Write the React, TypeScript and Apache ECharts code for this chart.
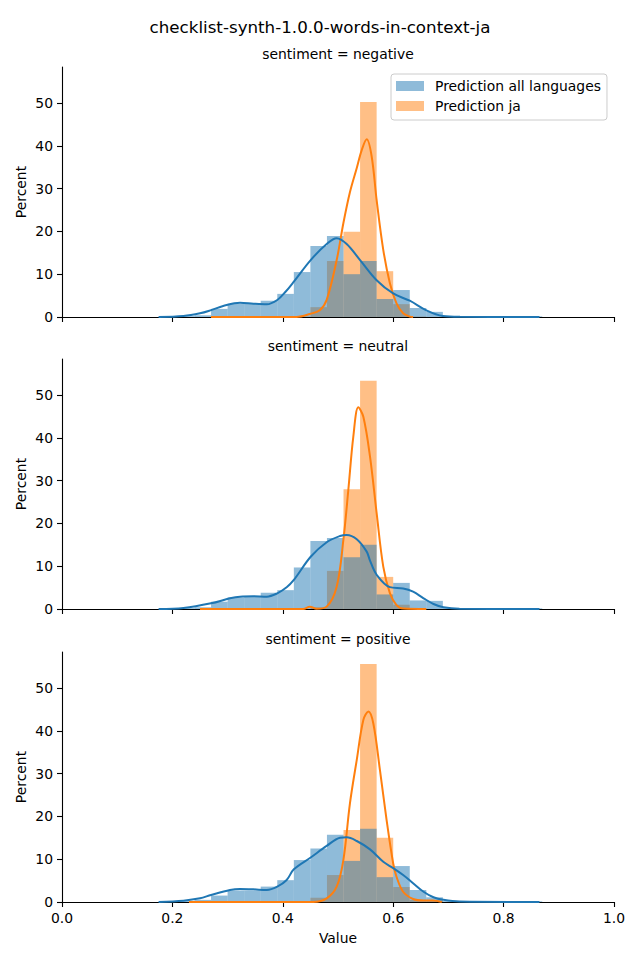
import React, { useEffect, useRef } from "react";
import * as echarts from "echarts";

const FIG_TITLE = "checklist-synth-1.0.0-words-in-context-ja";
const PANEL_TITLES = ["sentiment = negative", "sentiment = neutral", "sentiment = positive"];
const SERIES_NAMES = ["Prediction all languages", "Prediction ja"];
const X_AXIS_NAME = "Value";
const Y_AXIS_NAME = "Percent";
const X_TICKS = [0, 0.2, 0.4, 0.6, 0.8, 1.0];
const Y_TICKS = [0, 10, 20, 30, 40, 50];

// histogram bin edges (23 bins)
const BIN_EDGES = [
  0.18, 0.21, 0.24, 0.27, 0.3, 0.33, 0.36, 0.39, 0.42, 0.45, 0.48, 0.51,
  0.54, 0.57, 0.6, 0.63, 0.66, 0.69, 0.72, 0.75, 0.78, 0.81, 0.84, 0.87,
];

// percent per bin
const NEG_ALL = [0.2, 0.2, 0.4, 1.9, 3.1, 3.2, 3.8, 5.4, 10.5, 16.6, 18.9, 10.0, 13.1, 4.2, 6.3, 2.1, 1.2, 0.2, 0.15, 0.15, 0.15, 0.15, 0.15];
const NEG_JA = [0, 0, 0, 0, 0, 0, 0, 0, 0.1, 2.3, 13.1, 19.9, 50.2, 10.7, 3.0, 0.1, 0, 0, 0, 0, 0, 0, 0];
const NEU_ALL = [0.2, 0.2, 0.4, 1.7, 2.7, 2.9, 3.8, 4.4, 9.7, 15.9, 16.6, 12.1, 15.0, 3.4, 6.1, 2.0, 1.9, 0.2, 0.15, 0.15, 0.15, 0.15, 0.15];
const NEU_JA = [0, 0, 0, 0, 0, 0, 0, 0, 0, 0.4, 8.9, 28.0, 53.3, 7.5, 1.0, 0.1, 0, 0, 0, 0, 0, 0, 0];
const POS_ALL = [0.2, 0.2, 0.5, 1.5, 2.7, 2.7, 3.6, 5.1, 9.8, 12.5, 15.7, 9.6, 17.1, 5.8, 8.4, 2.8, 1.1, 0.2, 0.15, 0.15, 0.15, 0.15, 0.15];
const POS_JA = [0, 0, 0, 0, 0, 0, 0, 0, 0, 1.0, 6.3, 16.8, 55.6, 15.0, 3.5, 0.5, 0.4, 0, 0, 0, 0, 0, 0];

// KDE curves [value, percent]
const NEG_ALL_KDE = [
  [0.175, 0], [0.22, 0.23], [0.25, 0.86], [0.27, 1.6], [0.292, 2.57], [0.3225, 3.35], [0.347, 3.1],
  [0.371, 2.96], [0.39, 3.97], [0.405, 5.9], [0.42, 8.26], [0.4505, 13.3], [0.4795, 17.05],
  [0.4976, 18.4], [0.5157, 17.05], [0.54, 13.3], [0.57, 8.6], [0.6, 5.5], [0.63, 3.8],
  [0.661, 1.5], [0.69, 0.23], [0.721, 0.03], [0.865, 0],
];
const NEG_JA_KDE = [
  [0.27, 0], [0.425, 0.02], [0.449, 0.7], [0.467, 1.6], [0.4795, 4.0], [0.4976, 13.3],
  [0.5097, 21.9], [0.5217, 29.2], [0.534, 34.8], [0.543, 39.0], [0.552, 41.5], [0.561, 37.5],
  [0.57, 27.3], [0.582, 15.7], [0.594, 7.9], [0.606, 3.2], [0.618, 0.86], [0.63, 0.1], [0.636, 0],
];
const NEU_ALL_KDE = [
  [0.175, 0], [0.22, 0.23], [0.27, 1.32], [0.3043, 2.49], [0.3225, 2.88], [0.3466, 2.96],
  [0.371, 2.88], [0.39, 3.66], [0.407, 5.06], [0.42, 6.78], [0.4505, 12.2], [0.4795, 15.6],
  [0.5036, 17.06], [0.5157, 17.3], [0.534, 16.3], [0.552, 13.4], [0.558, 11.3], [0.57, 8.0],
  [0.594, 5.1], [0.618, 4.8], [0.636, 4.05], [0.655, 2.5], [0.673, 1.17], [0.691, 0.4],
  [0.72, 0.05], [0.865, 0],
];
const NEU_JA_KDE = [
  [0.25, 0], [0.437, 0.02], [0.449, 0.55], [0.461, 0.05], [0.4795, 0.55], [0.4976, 5.2],
  [0.5097, 16.1], [0.5187, 27.8], [0.5278, 40.3], [0.5368, 47.1], [0.5459, 44.9], [0.558, 35.6],
  [0.57, 22.4], [0.582, 9.9], [0.594, 3.7], [0.606, 0.9], [0.618, 0.1], [0.66, 0],
];
const POS_ALL_KDE = [
  [0.175, 0], [0.22, 0.31], [0.25, 0.86], [0.27, 1.64], [0.3043, 2.8], [0.3225, 3.04],
  [0.3466, 2.96], [0.371, 2.8], [0.39, 3.58], [0.407, 5.14], [0.42, 7.63], [0.4505, 10.4],
  [0.4795, 13.1], [0.5036, 15.0], [0.5157, 15.1], [0.534, 14.25], [0.558, 12.3], [0.582, 9.4],
  [0.6, 7.9], [0.618, 6.3], [0.636, 4.4], [0.655, 2.4], [0.673, 1.1], [0.691, 0.5], [0.72, 0.1],
  [0.865, 0],
];
const POS_JA_KDE = [
  [0.23, 0], [0.4553, 0.02], [0.4795, 0.86], [0.4976, 3.58], [0.5097, 9.8], [0.5217, 23.1],
  [0.534, 33.2], [0.5459, 42.5], [0.555, 44.5], [0.564, 41.7], [0.576, 30.8], [0.588, 19.2],
  [0.6, 9.0], [0.606, 5.9], [0.618, 2.4], [0.636, 0.7], [0.655, 0.35], [0.672, 0.35], [0.688, 0],
];

const HIST_ALL = [NEG_ALL, NEU_ALL, POS_ALL];
const HIST_JA = [NEG_JA, NEU_JA, POS_JA];
const KDE_ALL = [NEG_ALL_KDE, NEU_ALL_KDE, POS_ALL_KDE];
const KDE_JA = [NEG_JA_KDE, NEU_JA_KDE, POS_JA_KDE];

const BLUE = "#1f77b4";
const ORANGE = "#ff7f0e";
const BLUE_FILL = "rgba(31,119,180,0.5)";
const ORANGE_FILL = "rgba(255,127,14,0.5)";
const FONT = "DejaVu Sans";

const GRID_TOPS = [67, 359, 652];
const GRID_LEFT = 62;
const GRID_W = 552;
const GRID_H = 250;

function histSeries(values: number[], color: string, name: string, idx: number) {
  return {
    type: "custom",
    name,
    xAxisIndex: idx,
    yAxisIndex: idx,
    z: 2,
    encode: { x: [0, 1], y: 2 },
    renderItem: (_params: any, api: any) => {
      const x0 = api.value(0);
      const x1 = api.value(1);
      const h = api.value(2);
      const a = api.coord([x0, h]);
      const b = api.coord([x1, 0]);
      return {
        type: "rect",
        shape: { x: a[0], y: a[1], width: b[0] - a[0], height: b[1] - a[1] },
        style: { fill: color },
      };
    },
    data: values
      .map((v, i) => [BIN_EDGES[i], BIN_EDGES[i + 1], v])
      .filter((d) => d[2] > 0),
  };
}

function kdeSeries(points: number[][], color: string, name: string, idx: number) {
  return {
    type: "line",
    name,
    xAxisIndex: idx,
    yAxisIndex: idx,
    z: 3,
    smooth: 0.35,
    symbol: "none",
    showSymbol: false,
    lineStyle: { color, width: 2 },
    data: points,
  };
}

export default function App() {
  const ref = useRef<HTMLDivElement>(null);
  useEffect(() => {
    if (!ref.current) return;
    const chart = echarts.init(ref.current, null, { renderer: "svg" });
    const grids = GRID_TOPS.map((t) => ({ left: GRID_LEFT, top: t, width: GRID_W, height: GRID_H, containLabel: false }));
    const xAxes = GRID_TOPS.map((_, i) => ({
      type: "value",
      gridIndex: i,
      min: 0,
      max: 1,
      interval: 0.2,
      splitLine: { show: false },
      axisLine: { show: true, onZero: false, lineStyle: { color: "#000", width: 1.1 } },
      axisTick: { show: true, length: 5, lineStyle: { color: "#000", width: 1.1 } },
      axisLabel: {
        show: i === 2,
        margin: 9,
        color: "#000",
        fontFamily: FONT,
        fontSize: 13.9,
        formatter: (v: number) => v.toFixed(1),
        customValues: X_TICKS,
      },
      name: i === 2 ? X_AXIS_NAME : "",
      nameLocation: "middle",
      nameGap: 29,
      nameMoveOverlap: false,
      nameTextStyle: { color: "#000", fontFamily: FONT, fontSize: 13.9 },
    }));
    const yAxes = GRID_TOPS.map((_, i) => ({
      type: "value",
      gridIndex: i,
      min: 0,
      max: 58.4,
      interval: 10,
      splitLine: { show: false },
      axisLine: { show: true, onZero: false, lineStyle: { color: "#000", width: 1.1 } },
      axisTick: { show: true, length: 5, lineStyle: { color: "#000", width: 1.1 }, customValues: Y_TICKS },
      axisLabel: {
        margin: 9,
        color: "#000",
        fontFamily: FONT,
        fontSize: 13.9,
        customValues: Y_TICKS,
      },
      name: Y_AXIS_NAME,
      nameLocation: "middle",
      nameRotate: 90,
      nameGap: 34,
      nameMoveOverlap: false,
      nameTextStyle: { color: "#000", fontFamily: FONT, fontSize: 13.9 },
    }));

    // orange drawn first, blue over it (as in the reference)
    const series: any[] = [];
    for (let i = 0; i < 3; i++) {
      series.push(histSeries(HIST_JA[i], ORANGE_FILL, SERIES_NAMES[1], i));
      series.push(histSeries(HIST_ALL[i], BLUE_FILL, SERIES_NAMES[0], i));
    }
    for (let i = 0; i < 3; i++) {
      series.push(kdeSeries(KDE_JA[i], ORANGE, "kde-ja", i));
      series.push(kdeSeries(KDE_ALL[i], BLUE, "kde-all", i));
    }

    const texts: any[] = [
      {
        type: "text",
        x: 320,
        y: 27,
        style: { text: FIG_TITLE, fill: "#000", font: `16.7px "${FONT}"`, textAlign: "center", textVerticalAlign: "middle" },
      },
      ...PANEL_TITLES.map((t, i) => ({
        type: "text",
        x: GRID_LEFT + GRID_W / 2,
        y: GRID_TOPS[i] - 13,
        style: { text: t, fill: "#000", font: `13.9px "${FONT}"`, textAlign: "center", textVerticalAlign: "middle" },
      })),
    ];

    chart.setOption({
      animation: false,
      backgroundColor: "#fff",
      textStyle: { fontFamily: FONT },
      grid: grids,
      xAxis: xAxes,
      yAxis: yAxes,
      legend: {
        left: 391,
        top: 74,
        orient: "vertical",
        itemWidth: 28,
        itemHeight: 10,
        itemGap: 4,
        padding: [4, 6, 6, 5],
        borderColor: "#cccccc",
        borderWidth: 1,
        borderRadius: 3,
        backgroundColor: "rgba(255,255,255,0.8)",
        textStyle: { fontSize: 13.9, color: "#000", fontFamily: FONT, lineHeight: 16, padding: [0, 0, 0, 6] },
        data: [
          { name: SERIES_NAMES[0], icon: "rect", itemStyle: { color: BLUE_FILL } },
          { name: SERIES_NAMES[1], icon: "rect", itemStyle: { color: ORANGE_FILL } },
        ],
      },
      graphic: texts,
      series,
    });
    return () => chart.dispose();
  }, []);
  return (
    <div
      ref={ref}
      style={{ position: "absolute", left: 0, top: 0, width: 640, height: 960, background: "#fff" }}
    />
  );
}
